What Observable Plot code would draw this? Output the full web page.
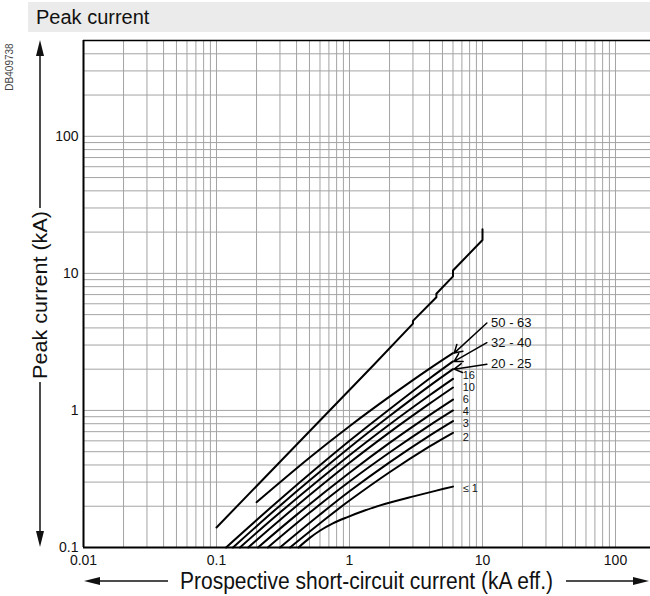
<!DOCTYPE html>
<html><head><meta charset="utf-8">
<script src="https://cdn.jsdelivr.net/npm/d3@7"></script>
<script src="https://cdn.jsdelivr.net/npm/@observablehq/plot@0.6"></script>
<style>
body{margin:0;background:#fff;font-family:"Liberation Sans",Arial,sans-serif;}
#title{margin:2px 0 0 28px;height:30px;background:#ebebeb;font-size:20px;line-height:30px;padding-left:8px;color:#111;}
#chart svg{display:block;overflow:visible;}
</style></head><body>
<div id="title">Peak current</div>
<div id="chart"></div>
<script>
// Tick labels
const xTicks = [0.01, 0.1, 1, 10, 100];
const xTickLabels = ["0.01", "0.1", "1", "10", "100"];
const yTicks = [0.1, 1, 10, 100];
const yTickLabels = ["0.1", "1", "10", "100"];

// Unlabelled reference line (kA eff., kA peak)
const sRef = [[0.1,0.14],[1.5,2.12],[3,4.3],[3,4.5],[4.5,6.7],[4.5,7.1],[6,9.5],[6,10.5],[10,17.5],[10,21]];
// Rated-current curves (kA eff., kA peak)
const s50_63 = [[0.2,0.214],[0.5,0.452],[1,0.767],[2,1.26],[4,2.02],[6,2.62]];
const s32_40 = [[0.118,0.1],[0.3,0.224],[1,0.60],[2,1.02],[4,1.71],[6,2.28]];
const s20_25 = [[0.133,0.1],[0.3,0.202],[1,0.536],[2,0.91],[4,1.51],[6,2.0]];
const s16 = [[0.15,0.1],[0.3,0.18],[1,0.471],[2,0.79],[4,1.29],[6,1.70]];
const s10 = [[0.173,0.1],[0.3,0.159],[1,0.415],[2,0.692],[4,1.12],[6,1.47]];
const s6 = [[0.205,0.1],[0.4,0.173],[1,0.351],[2,0.58],[4,0.925],[6,1.2]];
const s4 = [[0.243,0.1],[0.5,0.179],[1,0.303],[2,0.493],[4,0.778],[6,1.0]];
const s3 = [[0.3,0.1],[0.6,0.174],[1,0.257],[2,0.418],[4,0.655],[6,0.836]];
const s2 = [[0.357,0.1],[0.7,0.169],[1,0.22],[2,0.354],[4,0.546],[6,0.687]];
const s1 = [[0.414,0.1],[0.5,0.117],[0.602,0.133],[0.75,0.15],[0.956,0.166],[1.3,0.186],[1.7,0.203],[3.03,0.236],[4.5,0.26],[6,0.278]];

const seriesNames = ["50 - 63","32 - 40","20 - 25","16","10","6","4","3","2","≤ 1"];
const seriesData = [s50_63,s32_40,s20_25,s16,s10,s6,s4,s3,s2,s1];

// labels beside curve ends: position (kA, kA)
const endLabels = ["16","10","6","4","3","2","≤ 1"];
const endLabelX = [7.1, 7.1, 7.1, 7.1, 7.1, 7.1, 7.1];
const endLabelY = [1.80, 1.47, 1.203, 0.983, 0.804, 0.635, 0.271];
// labels with arrows
const arrowLabels = ["50 - 63","32 - 40","20 - 25"];
const arrowLabelX = [11.6, 11.6, 11.6];
const arrowLabelY = [4.34, 3.12, 2.17];
const arrowTipY = [2.62, 2.28, 2.0];

const refTable = sRef.map(([x,y])=>({x,y}));
const table = seriesNames.flatMap((n,i)=>seriesData[i].map(([x,y])=>({series:n,x,y})));
const lastOf = n => { const d = seriesData[seriesNames.indexOf(n)]; return d[d.length-1]; };
const endTable = endLabels.map((n,i)=>({label:n,x:endLabelX[i],y:endLabelY[i]}));
const arrowTable = arrowLabels.map((n,i)=>({label:n,x1:arrowLabelX[i]*0.93,y1:arrowLabelY[i],x2:lastOf(n)[0]*1.02,y2:arrowTipY[i],lx:arrowLabelX[i],ly:arrowLabelY[i]}));

const mult = [1,2,3,4,5,6,7,8,9];
const gridX = [0.01,0.1,1,10].flatMap(d=>mult.map(m=>m*d)).concat([100]);
const gridY = [0.1,1,10,100].flatMap(d=>mult.map(m=>m*d)).filter(v=>v<=500);

const W=650, H=564, mL=83, mT=8, mB=49;
const plot = Plot.plot({
  width: W, height: H, marginLeft: mL, marginRight: 0, marginTop: mT, marginBottom: mB,
  style: {fontFamily: '"Liberation Sans", Arial, sans-serif', fontSize: "14px", color: "#111", overflow: "visible", background: "transparent"},
  x: {type: "log", domain: [0.01, 183.3]},
  y: {type: "log", domain: [0.1, 500]},
  marks: [
    Plot.ruleX(gridX, {stroke: "#a4a4a4", strokeWidth: 1}),
    Plot.ruleY(gridY, {stroke: "#a4a4a4", strokeWidth: 1}),
    Plot.ruleX([0.01], {stroke: "#000", strokeWidth: 2}),
    Plot.ruleY([0.1], {stroke: "#000", strokeWidth: 2}),
    Plot.ruleY([500], {stroke: "#000", strokeWidth: 1.5}),
    Plot.line(refTable, {x: "x", y: "y", stroke: "#000", strokeWidth: 2}),
    Plot.line(table, {x: "x", y: "y", z: "series", stroke: "#000", strokeWidth: 2, curve: "catmull-rom"}),
    Plot.text(endTable, {x: "x", y: "y", text: "label", textAnchor: "start", fontSize: 11, fill: "#111"}),
    Plot.arrow(arrowTable, {x1: "x1", y1: "y1", x2: "x2", y2: "y2", stroke: "#000", strokeWidth: 1.5, headLength: 9, bend: 0}),
    Plot.text(arrowTable, {x: "lx", y: "ly", text: "label", textAnchor: "start", fontSize: 13, fill: "#111"}),
    Plot.axisX(xTicks, {tickSize: 0, tickPadding: 8, tickFormat: d => xTickLabels[xTicks.indexOf(d)], label: null, fontSize: 14}),
    Plot.axisY(yTicks, {tickSize: 0, tickPadding: 5, tickFormat: d => yTickLabels[yTicks.indexOf(d)], label: null, fontSize: 14})
  ]
});
document.getElementById("chart").appendChild(plot);

// decorations: axis titles with arrows, drawing id
const svg = d3.select(plot);
const off = 32; // page y offset of svg
const g = svg.append("g").attr("fill", "#111").attr("stroke", "none");
function arrowV(x, yFrom, yTip) {
  const dir = yTip < yFrom ? -1 : 1;
  g.append("line").attr("x1", x).attr("x2", x).attr("y1", yFrom).attr("y2", yTip - dir*12).attr("stroke", "#111").attr("stroke-width", 1.5);
  g.append("path").attr("d", `M${x},${yTip}L${x-4},${yTip-dir*16}L${x+4},${yTip-dir*16}Z`);
}
function arrowH(y, xFrom, xTip) {
  const dir = xTip < xFrom ? -1 : 1;
  g.append("line").attr("y1", y).attr("y2", y).attr("x1", xFrom).attr("x2", xTip - dir*12).attr("stroke", "#111").attr("stroke-width", 1.5);
  g.append("path").attr("d", `M${xTip},${y}L${xTip-dir*16},${y-4}L${xTip-dir*16},${y+4}Z`);
}
// y title
arrowV(40, 208-off, 40-off);
arrowV(40, 382-off, 547-off);
g.append("text").attr("transform", `translate(47,${295-off}) rotate(-90)`).attr("text-anchor", "middle")
  .attr("font-size", 21).attr("textLength", 168).attr("lengthAdjust", "spacingAndGlyphs").text("Peak current (kA)");
// x title
arrowH(581-off, 168, 84);
arrowH(581-off, 566, 649);
g.append("text").attr("x", 366.5).attr("y", 589-off).attr("text-anchor", "middle").attr("font-size", 23)
  .attr("textLength", 373).attr("lengthAdjust", "spacingAndGlyphs")
  .text("Prospective short-circuit current (kA eff.)");
// drawing id
g.append("text").attr("transform", `translate(13,${67-off}) rotate(-90)`).attr("text-anchor", "middle")
  .attr("font-size", 10).attr("fill", "#444").text("DB409738");
</script>
</body></html>
